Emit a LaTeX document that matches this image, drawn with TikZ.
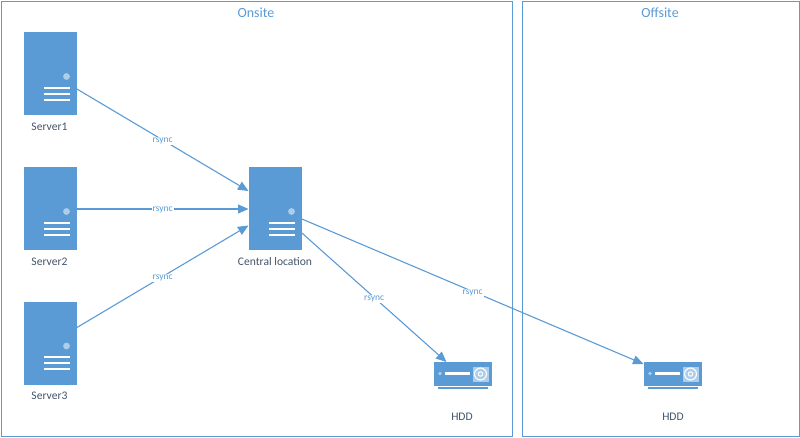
\documentclass[tikz,border=0pt]{standalone}
\usepackage{fontspec}
\setmainfont{Carlito}
\usetikzlibrary{calc,arrows.meta}
\definecolor{vblue}{HTML}{5B9BD5}
\definecolor{vtext}{HTML}{44546A}
\definecolor{vlight}{HTML}{ADCDEA}
\tikzset{
  zone/.style={draw=vblue,line width=1pt,fill=none,inner sep=0pt,anchor=north west},
  zonetitle/.style={text=vblue,font=\fontsize{14}{16}\selectfont,inner sep=0pt},
  serverbox/.style={fill=vblue,draw=none,inner sep=0pt,minimum width=52.5pt,minimum height=83pt,anchor=north west},
  hddbox/.style={fill=vblue,draw=none,inner sep=0pt,minimum width=58pt,minimum height=24pt,anchor=north west},
  devlabel/.style={text=vtext,font=\fontsize{11.6}{13}\selectfont,inner sep=0pt},
  link/.style={draw=vblue,line width=1.1pt,-{Triangle[length=10.5pt,width=9pt]}},
  linklabel/.style={text=vblue,fill=white,font=\fontsize{9.5}{11}\selectfont,inner sep=0.8pt,yshift=-1.3pt},
}
\newcommand{\serverdetail}[1]{%
  \fill[vlight] ($(#1.north west)+(42.5,44.5)$) circle (3.4pt);
  \foreach \yy in {55.5,61.5,67.5}
    \fill[white] ($(#1.north west)+(20,\yy-1)$) rectangle ($(#1.north west)+(46,\yy+1)$);
}
\newcommand{\hdddetail}[1]{%
  \fill[vlight] ($(#1.north west)+(6.5,11.5)$) circle (1.8pt);
  \fill[white] ($(#1.north west)+(11,9.7)$) rectangle ($(#1.north west)+(36,13.4)$);
  \fill[vlight] ($(#1.north west)+(39,4.5)$) rectangle ($(#1.north west)+(55,19.5)$);
  \draw[white,line width=1.1pt] ($(#1.north west)+(47,12)$) circle (6pt);
  \draw[white,line width=1pt] ($(#1.north west)+(47,12)$) circle (2.2pt);
  \fill[vblue] ($(#1.north west)+(4,25)$) rectangle ($(#1.north west)+(54,27.2)$);
}
\begin{document}
\begin{tikzpicture}[x=1pt,y=-1pt]
\useasboundingbox (0,0) rectangle (800,437);
\node[zone,minimum width=511.5pt,minimum height=435pt] (onsite) at (0.5,1) {};
\node[zone,minimum width=277pt,minimum height=435pt] (offsite) at (522,1) {};
\node[zonetitle] (ont) at (256,13) {Onsite};
\node[zonetitle] (oft) at (660,13) {Offsite};

\node[serverbox] (s1) at (24,32) {};
\node[serverbox] (s2) at (24,167) {};
\node[serverbox] (s3) at (24,301.5) {};
\node[serverbox] (c) at (249,167) {};
\node[hddbox] (h1) at (433.5,362) {};
\node[hddbox] (h2) at (643.5,362) {};
\serverdetail{s1}\serverdetail{s2}\serverdetail{s3}\serverdetail{c}
\hdddetail{h1}\hdddetail{h2}

\node[devlabel] (l1) at (49.5,127) {Server1};
\node[devlabel] (l2) at (49.5,261.5) {Server2};
\node[devlabel] (l3) at (49.5,396) {Server3};
\node[devlabel] (lc) at (275,261.5) {Central location};
\node[devlabel] (lh1) at (462,417) {HDD};
\node[devlabel] (lh2) at (673,417) {HDD};

\coordinate (s1o) at ($(s1.north east)+(0,57)$);
\coordinate (s2o) at ($(s2.north east)+(0,42)$);
\coordinate (s3o) at ($(s3.north east)+(0,26)$);
\coordinate (ci1) at ($(c.north west)+(-0.5,24)$);
\coordinate (ci2) at ($(c.north west)+(-0.5,42)$);
\coordinate (ci3) at ($(c.north west)+(-0.5,58.5)$);
\coordinate (co1) at ($(c.north east)+(0,52)$);
\coordinate (co2) at ($(c.north east)+(0,66)$);
\coordinate (h1i) at ($(h1.north west)+(13,0)$);
\coordinate (h2i) at ($(h2.north west)+(0,2)$);

\draw[link] (s1o) -- node[linklabel,pos=0.5] (r1) {rsync} (ci1);
\draw[link] (s2o) -- node[linklabel,pos=0.5] (r2) {rsync} (ci2);
\draw[link] (s3o) -- node[linklabel,pos=0.5] (r3) {rsync} (ci3);
\draw[link] (co2) -- node[linklabel,pos=0.5] (r4) {rsync} (h1i);
\draw[link] (co1) -- node[linklabel,pos=0.5] (r5) {rsync} (h2i);
\end{tikzpicture}
\end{document}
